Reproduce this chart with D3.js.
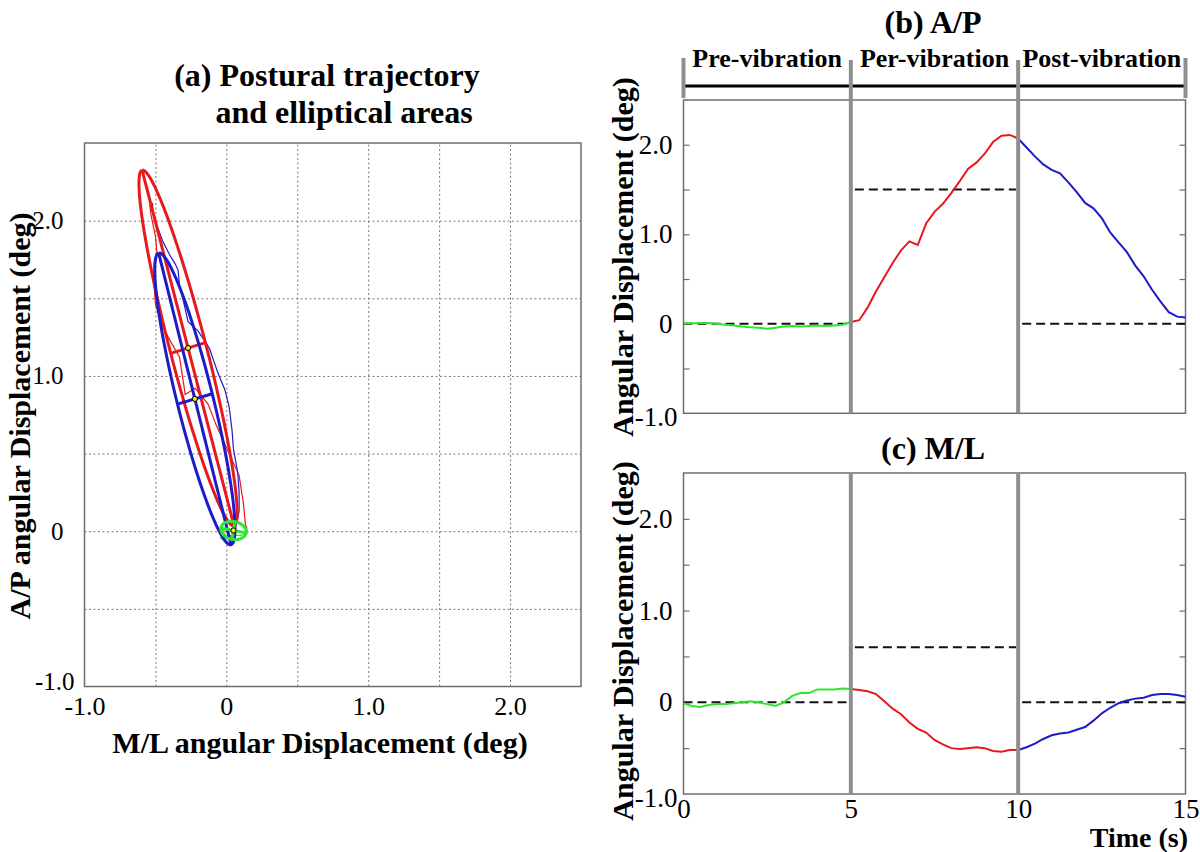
<!DOCTYPE html>
<html>
<head>
<meta charset="utf-8">
<script src="https://cdn.jsdelivr.net/npm/d3@7"></script>
<style>
body { margin: 0; background: #fff; }
svg { display: block; font-family: "Liberation Serif", "Times New Roman", serif; }
svg text { font-family: "Liberation Serif", "Times New Roman", serif; }
</style>
</head>
<body>
<svg id="fig" width="1200" height="852"></svg>
<script>

// ---- data ----
var phaseNames = ["Pre-vibration", "Per-vibration", "Post-vibration"];
var phaseColors = ["#2ee62e", "#e8191e", "#1c1cc8"];
var phaseStart = [0, 5, 10];
var phaseEnd = [5, 10, 15];

var timeS = [0,0.25,0.5,0.75,1,1.25,1.5,1.75,2,2.25,2.5,2.75,3,3.25,3.5,3.75,4,4.25,4.5,4.75,
             5,5.25,5.5,5.75,6,6.25,6.5,6.75,7,7.25,7.5,7.75,8,8.25,8.5,8.75,9,9.25,9.5,9.75,
             10,10.25,10.5,10.75,11,11.25,11.5,11.75,12,12.25,12.5,12.75,13,13.25,13.5,13.75,14,14.25,14.5,14.75,15];

// A/P angular displacement (deg)
var apDeg = [0,0.005,0.01,0.01,0,-0.01,-0.02,-0.03,-0.04,-0.045,-0.055,-0.045,-0.03,-0.025,-0.03,-0.025,-0.02,-0.025,-0.02,-0.01,
             0.02,0.04,0.18,0.36,0.52,0.68,0.82,0.92,0.88,1.12,1.25,1.34,1.46,1.59,1.73,1.80,1.90,2.03,2.10,2.11,
             2.07,1.97,1.87,1.78,1.72,1.68,1.58,1.47,1.35,1.29,1.18,1.02,0.91,0.80,0.65,0.53,0.38,0.25,0.13,0.08,0.07];

// M/L angular displacement (deg)
var mlDeg = [-0.01,-0.04,-0.05,-0.03,-0.02,-0.02,-0.01,0,0.01,0,-0.02,-0.04,0,0.07,0.10,0.10,0.14,0.14,0.14,0.15,
             0.145,0.135,0.12,0.09,0.01,-0.07,-0.13,-0.22,-0.29,-0.33,-0.41,-0.46,-0.50,-0.51,-0.50,-0.49,-0.50,-0.53,-0.54,-0.52,
             -0.52,-0.49,-0.45,-0.40,-0.36,-0.34,-0.33,-0.30,-0.27,-0.20,-0.12,-0.06,-0.01,0.02,0.04,0.05,0.08,0.09,0.09,0.08,0.06];

// dashed reference level per phase
var apRef = [0, 1.5, 0];
var mlRef = [0, 0.6, 0];

// confidence ellipses per phase (deg), angle of major axis in degrees
var ellCx = [0.05, -0.27, -0.222];
var ellCy = [0.005, 1.18, 0.852];
var ellMajor = [0.09, 1.19, 0.973];
var ellMinor = [0.058, 0.127, 0.127];
var ellAngle = [-10, 105.8, 105.2];

var dispTicks = [-1, 0, 1, 2];
var dispTickLabels = ["-1.0", "0", "1.0", "2.0"];
var gridTicks = [-0.5, 0, 0.5, 1, 1.5, 2];
var halfTicks = [-0.5, 0, 0.5, 1, 1.5, 2];
var timeTicks = [0, 5, 10, 15];

var serif = "'Liberation Serif', 'Times New Roman', serif";

var svg = d3.select("#fig");
svg.append("rect").attr("width", 1200).attr("height", 852).attr("fill", "#fff");

var frameCol = "#6e6e6e", sepCol = "#8e8e8e";

function fmtDisp(d) { return dispTickLabels[dispTicks.indexOf(d)]; }

function tickText(a, size) {
  a.select(".domain").remove();
  a.attr("font-family", null);
  a.selectAll("text")
      .style("font-family", serif)
      .style("font-size", size + "px")
      .attr("fill", "#000");
}

// ================= (a) =================
var xA = d3.scaleLinear().domain([-1, 2.5]).range([84.5, 581]);
var yA = d3.scaleLinear().domain([-1, 2.5]).range([686.5, 143]);

var ga = svg.append("g");

ga.append("g")
    .attr("transform", "translate(0,686.5)")
    .call(d3.axisBottom(xA).tickValues(gridTicks).tickSize(-(686.5 - 143)).tickFormat(""))
    .call(function(g) { g.select(".domain").remove(); })
    .selectAll("line").attr("stroke", "#777").attr("stroke-dasharray", "2,2.5");

ga.append("g")
    .attr("transform", "translate(84.5,0)")
    .call(d3.axisLeft(yA).tickValues(gridTicks).tickSize(-(581 - 84.5)).tickFormat(""))
    .call(function(g) { g.select(".domain").remove(); })
    .selectAll("line").attr("stroke", "#777").attr("stroke-dasharray", "2,2.5");

// tick labels
var axA = ga.append("g")
    .attr("transform", "translate(84.5,0)")
    .call(d3.axisLeft(yA).tickValues(dispTicks).tickFormat(fmtDisp).tickSize(0).tickPadding(21));
tickText(axA, 25);
axA.selectAll("text").filter(function(d) { return d == -1; }).attr("x", -10).attr("dy", "0.12em");

var axAx = ga.append("g")
    .attr("transform", "translate(0,686.5)")
    .call(d3.axisBottom(xA).tickValues(dispTicks).tickFormat(fmtDisp).tickSize(0).tickPadding(10));
tickText(axAx, 26);

var lineA = d3.line()
    .x(function(i) { return xA(mlDeg[i]); })
    .y(function(i) { return yA(apDeg[i]); });

function phaseIdx(p) {
  return d3.range(timeS.length).filter(function(i) {
    return timeS[i] >= phaseStart[p] && timeS[i] <= phaseEnd[p];
  });
}

var drawOrder = [1, 2, 0];

// thin trajectories
drawOrder.forEach(function(p) {
  ga.append("path")
      .attr("d", lineA(phaseIdx(p)))
      .attr("fill", "none")
      .attr("stroke", phaseColors[p])
      .attr("stroke-width", 1.2);
});

// ellipses + principal axes
drawOrder.forEach(function(p) {
  var phi = ellAngle[p] * Math.PI / 180;
  var pts = d3.range(0, 361, 4).map(function(a) {
    var t = a * Math.PI / 180;
    var u = ellMajor[p] * Math.cos(t), v = ellMinor[p] * Math.sin(t);
    return [xA(ellCx[p] + u * Math.cos(phi) - v * Math.sin(phi)),
            yA(ellCy[p] + u * Math.sin(phi) + v * Math.cos(phi))];
  });
  ga.append("path")
      .attr("d", d3.line()(pts))
      .attr("fill", "none")
      .attr("stroke", phaseColors[p])
      .attr("stroke-width", 3);

  var ax = [[ellMajor[p] * Math.cos(phi), ellMajor[p] * Math.sin(phi)],
            [-ellMinor[p] * Math.sin(phi), ellMinor[p] * Math.cos(phi)]];
  ax.forEach(function(d) {
    ga.append("line")
        .attr("x1", xA(ellCx[p] - d[0])).attr("y1", yA(ellCy[p] - d[1]))
        .attr("x2", xA(ellCx[p] + d[0])).attr("y2", yA(ellCy[p] + d[1]))
        .attr("stroke", phaseColors[p])
        .attr("stroke-width", 3);
  });
});

drawOrder.forEach(function(p) {
  ga.append("circle")
      .attr("cx", xA(ellCx[p])).attr("cy", yA(ellCy[p]))
      .attr("r", 2.6)
      .attr("fill", "#f2e200")
      .attr("stroke", "#000")
      .attr("stroke-width", 1);
});

ga.append("rect")
    .attr("x", 84.5).attr("y", 143)
    .attr("width", 581 - 84.5).attr("height", 686.5 - 143)
    .attr("fill", "none").attr("stroke", frameCol).attr("stroke-width", 1.5);

ga.append("text").attr("x", 327).attr("y", 86)
    .attr("text-anchor", "middle").attr("font-size", 32).attr("font-weight", "bold")
    .text("(a) Postural trajectory");
ga.append("text").attr("x", 344).attr("y", 123)
    .attr("text-anchor", "middle").attr("font-size", 32).attr("font-weight", "bold")
    .text("and elliptical areas");

ga.append("text").attr("x", 320).attr("y", 753)
    .attr("text-anchor", "middle").attr("font-size", 30).attr("font-weight", "bold")
    .text("M/L angular Displacement (deg)");
ga.append("text")
    .attr("transform", "translate(30,416) rotate(-90)")
    .attr("text-anchor", "middle").attr("font-size", 30).attr("font-weight", "bold")
    .text("A/P angular Displacement (deg)");

// ================= (b) and (c) =================
var tX = d3.scaleLinear().domain([0, 15]).range([683.5, 1185.5]);

function timePanel(values, refs, top, bottom, title, titleY, labelY, showTime) {
  var y = d3.scaleLinear().domain([-1, 2.5]).range([bottom, top]);
  var g = svg.append("g");

  g.append("rect")
      .attr("x", tX(0)).attr("y", top)
      .attr("width", tX(15) - tX(0)).attr("height", bottom - top)
      .attr("fill", "none").attr("stroke", frameCol).attr("stroke-width", 1.5);

  // inward ticks both sides
  var tl = g.append("g").attr("transform", "translate(" + tX(0) + ",0)")
      .call(d3.axisLeft(y).tickValues(halfTicks).tickSize(-6).tickFormat(""));
  var tr = g.append("g").attr("transform", "translate(" + tX(15) + ",0)")
      .call(d3.axisRight(y).tickValues(halfTicks).tickSize(-6).tickFormat(""));
  [tl, tr].forEach(function(a) {
    a.select(".domain").remove();
    a.selectAll("line").attr("stroke", frameCol).attr("stroke-width", 1.2);
  });

  var lab = g.append("g").attr("transform", "translate(" + tX(0) + ",0)")
      .call(d3.axisLeft(y).tickValues(dispTicks).tickFormat(fmtDisp).tickSize(0).tickPadding(11));
  tickText(lab, 27);
  lab.selectAll("text").filter(function(d) { return d == -1; }).attr("x", -6).attr("dy", "0.45em");

  if (showTime) {
    var xl = g.append("g").attr("transform", "translate(0," + bottom + ")")
        .call(d3.axisBottom(tX).tickValues(timeTicks).tickFormat(d3.format("d")).tickSize(0).tickPadding(5));
    tickText(xl, 27);
  }

  // dashed reference levels
  [0, 1, 2].forEach(function(p) {
    var x0 = p == 0 ? phaseStart[p] : phaseStart[p] + 0.12;
    var x1 = p == 2 ? phaseEnd[p] : phaseEnd[p] - 0.06;
    g.append("line")
        .attr("x1", tX(x0)).attr("x2", tX(x1))
        .attr("y1", y(refs[p])).attr("y2", y(refs[p]))
        .attr("stroke", "#111").attr("stroke-width", 2)
        .attr("stroke-dasharray", "9,5");
  });

  var line = d3.line()
      .x(function(i) { return tX(timeS[i]); })
      .y(function(i) { return y(values[i]); });

  [0, 1, 2].forEach(function(p) {
    g.append("path")
        .attr("d", line(phaseIdx(p)))
        .attr("fill", "none")
        .attr("stroke", phaseColors[p])
        .attr("stroke-width", 2);
  });

  // phase separators
  [5, 10].forEach(function(t) {
    g.append("line")
        .attr("x1", tX(t)).attr("x2", tX(t))
        .attr("y1", top).attr("y2", bottom)
        .attr("stroke", sepCol).attr("stroke-width", 4);
  });

  g.append("text").attr("x", 933).attr("y", titleY)
      .attr("text-anchor", "middle").attr("font-size", 32).attr("font-weight", "bold")
      .text(title);

  g.append("text")
      .attr("transform", "translate(633," + labelY + ") rotate(-90)")
      .attr("text-anchor", "middle").attr("font-size", 30).attr("font-weight", "bold")
      .text("Angular Displacement (deg)");

  return g;
}

timePanel(apDeg, apRef, 100, 413.3, "(b) A/P", 33, 257, false);
timePanel(mlDeg, mlRef, 473, 794, "(c) M/L", 459, 641, true);

svg.append("text").attr("x", 1188).attr("y", 847)
    .attr("text-anchor", "end").attr("font-size", 28).attr("font-weight", "bold")
    .text("Time (s)");

// phase header above (b)
var hdr = svg.append("g");
hdr.append("line")
    .attr("x1", tX(0)).attr("x2", tX(15)).attr("y1", 86).attr("y2", 86)
    .attr("stroke", "#000").attr("stroke-width", 3);
[0, 15].forEach(function(t) {
  hdr.append("line")
      .attr("x1", tX(t)).attr("x2", tX(t)).attr("y1", 58).attr("y2", 98)
      .attr("stroke", sepCol).attr("stroke-width", 4);
});
[5, 10].forEach(function(t) {
  hdr.append("line")
      .attr("x1", tX(t)).attr("x2", tX(t)).attr("y1", 60).attr("y2", 100)
      .attr("stroke", sepCol).attr("stroke-width", 4);
});
phaseNames.forEach(function(n, p) {
  hdr.append("text")
      .attr("x", tX((phaseStart[p] + phaseEnd[p]) / 2))
      .attr("y", 67)
      .attr("text-anchor", "middle").attr("font-size", 26).attr("font-weight", "bold")
      .text(n);
});

</script>
</body>
</html>
